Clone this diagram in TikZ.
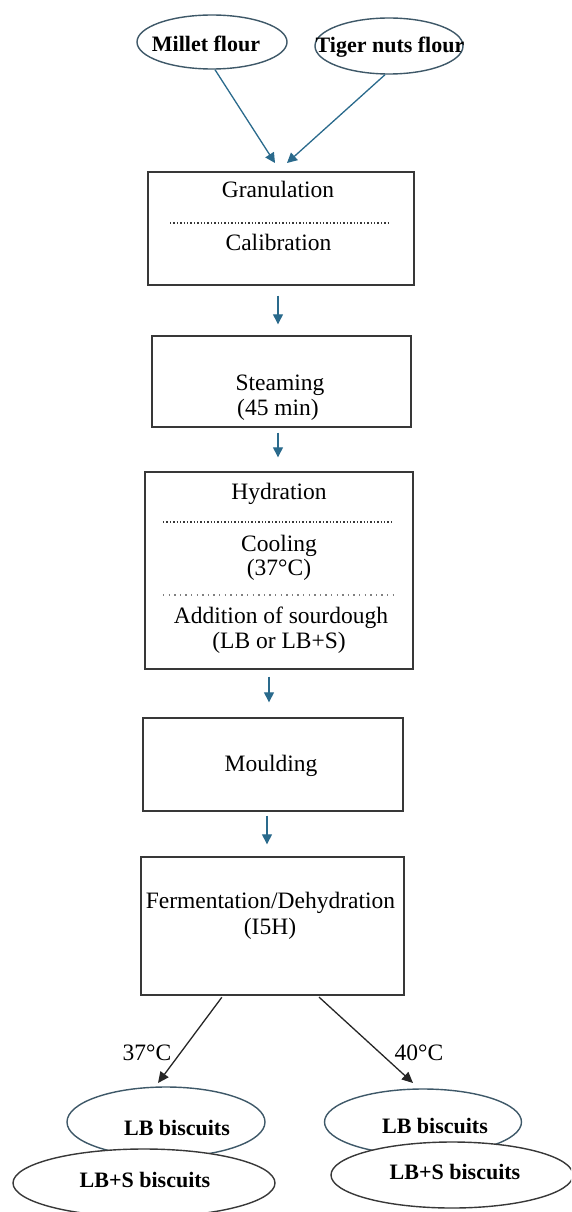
\documentclass[tikz,border=0pt]{standalone}
\usepackage{fontspec}
\setmainfont{Liberation Serif}
\usetikzlibrary{shapes.geometric,arrows.meta}
\definecolor{arrblue}{HTML}{2A6A8C}
\definecolor{ellblue}{HTML}{3E5868}
\definecolor{boxgray}{HTML}{383838}
\tikzset{
  stepbox/.style={draw=boxgray, line width=1.4pt, rectangle, inner sep=0pt},
  ovalA/.style={draw=ellblue, line width=1.4pt, ellipse, inner sep=0pt, fill=white},
  ovalB/.style={draw=boxgray, line width=1.4pt, ellipse, inner sep=0pt, fill=white},
  txt/.style={anchor=base, inner sep=0pt, font=\fontsize{23.5}{26}\selectfont},
  btxt/.style={anchor=base, inner sep=0pt, font=\fontsize{22}{24}\selectfont\bfseries},
  bluearr/.style={draw=arrblue, line width=1.3pt, -{Triangle[width=10pt,length=10pt]}, arrblue},
  blackarr/.style={draw=black!85, line width=1.3pt, -{Triangle[width=10pt,length=11pt]}},
  dotline/.style={draw=boxgray, line width=1.4pt, dash pattern=on 1.3pt off 2.1pt},
  lightdot/.style={draw=gray, line width=1.1pt, dash pattern=on 1.4pt off 4.2pt}
}
\begin{document}
\begin{tikzpicture}[x=1pt,y=-1pt]
\useasboundingbox (0,0) rectangle (571,1212);
\clip (0,0) rectangle (571,1212);

% top ellipses
\node[ovalA, minimum width=150pt, minimum height=54pt] (mil) at (212,42) {};
\node[btxt] (milt) at (206,52) {Millet flour};
\node[ovalA, minimum width=148pt, minimum height=56pt] (tig) at (389,46) {};
\node[btxt] (tigt) at (390,53) {Tiger nuts flour};

% boxes
\node[stepbox, minimum width=266pt, minimum height=113pt] (b1) at (281,228.5) {};
\node[stepbox, minimum width=259pt, minimum height=91pt] (b2) at (281.5,381.5) {};
\node[stepbox, minimum width=268pt, minimum height=197pt] (b3) at (279,570.5) {};
\node[stepbox, minimum width=260pt, minimum height=93pt] (b4) at (273,764.5) {};
\node[stepbox, minimum width=263pt, minimum height=138pt] (b5) at (272.5,926) {};

% box texts
\node[txt] (t11) at (278,197) {Granulation};
\draw[dotline] (170,223) -- (390,223);
\node[txt] (t12) at (278.5,250) {Calibration};

\node[txt] (t21) at (280,390) {Steaming};
\node[txt] (t22) at (278,415) {(45 min)};

\node[txt] (t31) at (279,499) {Hydration};
\draw[dotline] (163,522) -- (393,522);
\node[txt] (t32) at (279,551) {Cooling};
\node[txt] (t33) at (279,575) {(37°C)};
\draw[lightdot] (163,595) -- (393,595);
\node[txt] (t34) at (281,623) {Addition of sourdough};
\node[txt] (t35) at (279,648) {(LB or LB+S)};

\node[txt] (t41) at (271,771) {Moulding};

\node[txt] (t51) at (270.5,908) {Fermentation/Dehydration};
\node[txt] (t52) at (270,934) {(I5H)};

% connectors
\coordinate (in1) at (275,163);
\coordinate (in2) at (287,163);
\draw[bluearr] ([xshift=3pt]mil.south) -- (in1);
\draw[bluearr] ([xshift=-4pt]tig.south) -- (in2);

\draw[bluearr, shorten <=10pt, shorten >=11pt] ([xshift=-3pt]b1.south) -- ([xshift=-3pt]b1.south |- b2.north);
\draw[bluearr, shorten <=5pt, shorten >=14pt] ([xshift=-3.5pt]b2.south) -- ([xshift=-3.5pt]b2.south |- b3.north);
\draw[bluearr, shorten <=7pt, shorten >=15pt] ([xshift=-10pt]b3.south) -- ([xshift=-10pt]b3.south |- b4.north);
\draw[bluearr, shorten <=4pt, shorten >=12pt] ([xshift=-6pt]b4.south) -- ([xshift=-6pt]b4.south |- b5.north);

\coordinate (outL) at (158,1083);
\coordinate (outR) at (413,1083);
\draw[blackarr, shorten <=2pt] ([xshift=-49.5pt]b5.south) -- (outL);
\draw[blackarr, shorten <=2pt] ([xshift=45pt]b5.south) -- (outR);
\node[txt] (l37) at (147,1060) {37°C};
\node[txt] (l40) at (419,1060) {40°C};

% bottom ellipses
\node[ovalA, minimum width=198pt, minimum height=70pt] (lbL) at (166,1122) {};
\node[btxt] (lbLt) at (177,1135) {LB biscuits};
\node[ovalB, minimum width=262pt, minimum height=68pt] (lbsL) at (144,1183) {};
\node[btxt] (lbsLt) at (145,1187) {LB+S biscuits};

\node[ovalA, minimum width=197pt, minimum height=66pt] (lbR) at (423,1122) {};
\node[btxt] (lbRt) at (435,1133) {LB biscuits};
\node[ovalB, minimum width=242pt, minimum height=66pt] (lbsR) at (452,1175) {};
\node[btxt] (lbsRt) at (455,1179) {LB+S biscuits};
\end{tikzpicture}
\end{document}
